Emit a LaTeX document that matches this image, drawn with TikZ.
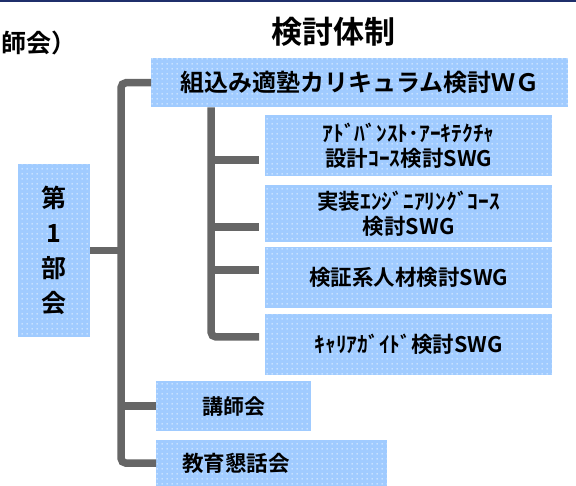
\documentclass[tikz,border=0pt]{standalone}
\usepackage{fontspec}
\setmainfont{Noto Sans CJK JP}[UprightFont=* Bold]
\usetikzlibrary{patterns}
\pgfdeclarepatternformonly{whitedots}{\pgfpointorigin}{\pgfpoint{5pt}{5pt}}{\pgfpoint{5pt}{5pt}}{\pgfpathrectangle{\pgfpoint{2pt}{2pt}}{\pgfpoint{1pt}{1pt}}\pgfusepath{fill}}
\definecolor{boxblue}{HTML}{A0CBFF}
\definecolor{conngray}{HTML}{666666}
\definecolor{topnavy}{HTML}{1F2F6B}
\begin{document}
\begin{tikzpicture}[x=1pt,y=-1pt,
  box/.style={fill=boxblue, postaction={pattern=whitedots, pattern color=white}, inner sep=0pt, anchor=north west, align=center},
  conn/.style={draw=conngray, line width=7.5pt, rounded corners=5pt},
  fsub/.style={font=\fontsize{21.5pt}{25pt}\selectfont}
]
\useasboundingbox (0,0) rectangle (576,486);
\fill[topnavy] (0,0) rectangle (576,2);
\node[anchor=base west, inner sep=0pt, font=\fontsize{25pt}{25pt}\selectfont] (prev) at (1,53) {師会）};
\node[inner sep=0pt, font=\fontsize{31pt}{31pt}\selectfont] (title) at (333,32) {検討体制};

\node[box, minimum width=417pt, minimum height=49pt, font=\fontsize{24pt}{24pt}\selectfont] (wg) at (151,58) {組込み適塾カリキュラム検討ＷＧ};

\node[box, fsub, minimum width=287pt, minimum height=61pt] (s1) at (265,115) {ｱﾄﾞﾊﾞﾝｽﾄ･ｱｰｷﾃｸﾁｬ\\設計ｺｰｽ検討SWG};
\node[box, fsub, minimum width=287pt, minimum height=57pt] (s2) at (265,185) {実装ｴﾝｼﾞﾆｱﾘﾝｸﾞｺｰｽ\\検討SWG};
\node[box, fsub, minimum width=287pt, minimum height=61pt] (s3) at (265,247) {検証系人材検討SWG};
\node[box, fsub, minimum width=287pt, minimum height=61pt] (s4) at (265,314) {ｷｬﾘｱｶﾞｲﾄﾞ検討SWG};

\node[box, minimum width=72pt, minimum height=173pt, font=\fontsize{25pt}{35pt}\selectfont] (bukai) at (18,164) {第\\1\\部\\会};

\node[box, font=\fontsize{21pt}{25pt}\selectfont, minimum width=155pt, minimum height=50pt] (kosh) at (156,381) {講師会};
\node[box, font=\fontsize{21.5pt}{25pt}\selectfont, minimum height=46pt, inner xsep=26pt, text width=179pt, align=left] (kon) at (156,440) {教育懇話会};

\coordinate (tx) at (121,0);
\coordinate (sx) at (211,0);
\coordinate (b1) at (259,160);
\coordinate (b2) at (259,227);
\coordinate (b3) at (259,270);
\coordinate (b4) at (259,337);

\draw[conn] (wg.west) -| (tx |- kon.west) -- (kon.west);
\draw[conn] (kosh.west) -- (kosh.west -| tx);
\draw[conn] (bukai.east) -- (bukai.east -| tx);

\draw[conn] (wg.south -| sx) |- (b4);
\draw[conn] (b1 -| sx) -- (b1);
\draw[conn] (b2 -| sx) -- (b2);
\draw[conn] (b3 -| sx) -- (b3);
\end{tikzpicture}
\end{document}
